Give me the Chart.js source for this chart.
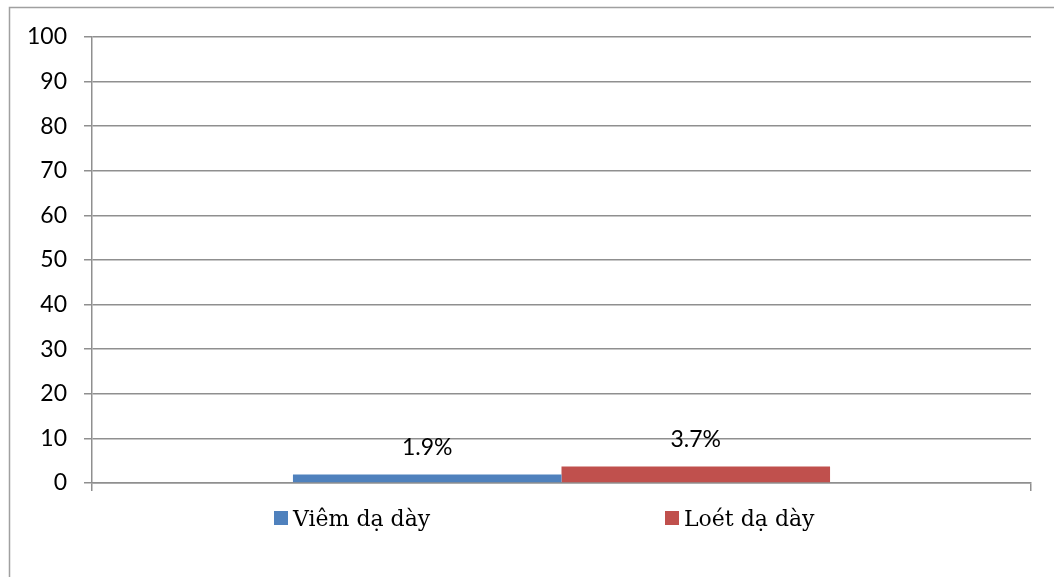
<!DOCTYPE html>
<html>
<head>
<meta charset="utf-8">
<script src="https://cdn.jsdelivr.net/npm/chart.js@4.4.1/dist/chart.umd.min.js"></script>
<style>
  html, body { margin: 0; padding: 0; background: #fff; }
  canvas { display: block; }
</style>
</head>
<body>
<canvas id="myChart" width="1054" height="577"></canvas>
<script>
// datos del grafico
const categorias = [''];
const seriesNombres = ['Viêm dạ dày', 'Loét dạ dày'];
const seriesValores = [[1.9], [3.7]];
const seriesColores = ['#4F81BD', '#C0504D'];
const ticksY = [0, 10, 20, 30, 40, 50, 60, 70, 80, 90, 100];

const colorLinea = '#8f8f8f';

// marco gris del grafico
const marcoPlugin = {
    id: 'marco',
    beforeDraw(chart) {
        const ctx = chart.ctx;
        ctx.save();
        ctx.fillStyle = '#fff';
        ctx.fillRect(0, 0, chart.width, chart.height);
        ctx.strokeStyle = '#a0a0a0';
        ctx.lineWidth = 1.5;
        ctx.strokeRect(9.5, 7.5, chart.width + 20, chart.height + 20);
        ctx.restore();
    }
};

// etiquetas sobre las barras
const etiquetasPlugin = {
    id: 'etiquetas',
    afterDatasetsDraw(chart) {
        const ctx = chart.ctx;
        ctx.save();
        ctx.font = '23px Lato';
        ctx.fillStyle = '#000';
        ctx.textAlign = 'center';
        ctx.textBaseline = 'middle';
        chart.data.datasets.forEach((ds, i) => {
            const meta = chart.getDatasetMeta(i);
            meta.data.forEach((bar, j) => {
                ctx.fillText(ds.data[j].toFixed(1) + '%', bar.x, bar.y - 27);
            });
        });
        ctx.restore();
    }
};

// leyenda abajo
const leyendaPlugin = {
    id: 'leyenda',
    afterDraw(chart, args, opts) {
        const ctx = chart.ctx;
        ctx.save();
        ctx.font = '22px "DejaVu Serif"';
        ctx.textBaseline = 'alphabetic';
        chart.data.datasets.forEach((ds, i) => {
            const x = opts.xs[i];
            ctx.fillStyle = ds.backgroundColor;
            ctx.fillRect(x, opts.y, 14, 14);
            ctx.fillStyle = '#000';
            ctx.fillText(ds.label, x + 19, opts.y + 15);
        });
        ctx.restore();
    }
};

const datasets = seriesNombres.map((nombre, i) => ({
    label: nombre,
    data: seriesValores[i],
    backgroundColor: seriesColores[i],
    borderWidth: 0,
    barPercentage: 1,
    categoryPercentage: 0.572
}));

const ctx = document.getElementById('myChart').getContext('2d');
const myChart = new Chart(ctx, {
    type: 'bar',
    data: { labels: categorias, datasets },
    options: {
        responsive: false,
        animation: false,
        devicePixelRatio: 1,
        layout: { padding: { top: 37, right: 23, bottom: 86, left: 0 } },
        plugins: {
            legend: { display: false },
            tooltip: { enabled: false },
            leyenda: { xs: [274, 665], y: 511 }
        },
        scales: {
            x: {
                offset: true,
                grid: {
                    display: true,
                    offset: true,
                    drawOnChartArea: false,
                    drawTicks: true,
                    tickLength: 8,
                    color: colorLinea,
                    lineWidth: 1.5
                },
                border: { display: true, color: colorLinea, width: 1.5 },
                ticks: { display: false },
                afterFit(scale) { scale.height = 8; }
            },
            y: {
                min: 0,
                max: 100,
                afterBuildTicks(scale) {
                    scale.ticks = ticksY.map(v => ({ value: v }));
                },
                grid: {
                    color: colorLinea,
                    lineWidth: 1.5,
                    tickLength: 8
                },
                border: { display: true, color: colorLinea, width: 1.5 },
                ticks: {
                    color: '#000',
                    padding: 17,
                    font: { family: 'Lato', size: 23 }
                },
                afterFit(scale) { scale.width = 92; }
            }
        }
    },
    plugins: [marcoPlugin, etiquetasPlugin, leyendaPlugin]
});
</script>
</body>
</html>
